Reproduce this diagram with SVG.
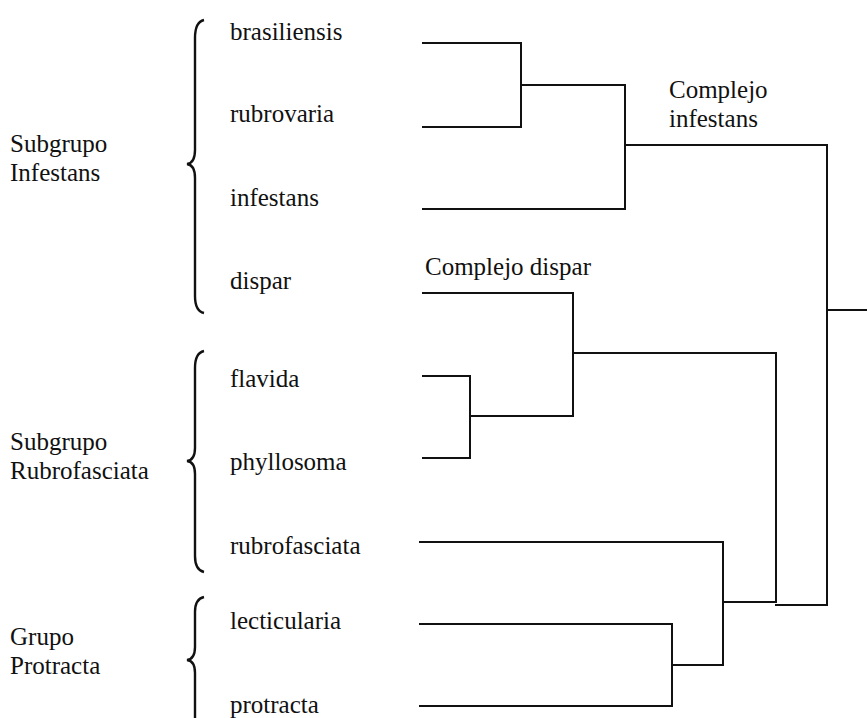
<svg xmlns="http://www.w3.org/2000/svg" width="867" height="718" viewBox="0 0 867 718">
<style>
text{font-family:"Liberation Serif","Times New Roman",serif;font-size:25px;fill:#111}
.ln{fill:none;stroke:#111;stroke-width:2;stroke-linecap:square}
.br{fill:none;stroke:#111;stroke-width:2.4}
</style>
<rect width="867" height="718" fill="#fff"/>
<g id="braces">
<path class="br" d="M204 20 Q195 22 195 38 L195 150 Q195 163 187 164 Q195 165 195 178 L195 296 Q195 311 204 313"/>
<path class="br" d="M204 351 Q195 353 195 368 L195 448 Q195 460 187 461 Q195 462 195 474 L195 556 Q195 570 204 572"/>
<path class="br" d="M204 597 Q195 599 195 612 L195 647 Q195 659 187 660 Q195 661 195 673 L195 718"/>
</g>
<g id="group-labels">
<text x="10" y="152">Subgrupo</text><text x="10" y="181">Infestans</text>
<text x="10" y="450">Subgrupo</text><text x="10" y="479">Rubrofasciata</text>
<text x="10" y="645">Grupo</text><text x="10" y="674">Protracta</text>
</g>
<g id="n-brasiliensis"><text x="230" y="40">brasiliensis</text></g>
<g id="n-rubrovaria"><text x="230" y="122">rubrovaria</text></g>
<g id="n-infestans"><text x="230" y="206">infestans</text></g>
<g id="n-dispar"><text x="230" y="289">dispar</text></g>
<g id="n-flavida"><text x="230" y="387">flavida</text></g>
<g id="n-phyllosoma"><text x="230" y="470">phyllosoma</text></g>
<g id="n-rubrofasciata"><text x="230" y="554">rubrofasciata</text></g>
<g id="n-lecticularia"><text x="230" y="629">lecticularia</text></g>
<g id="n-protracta"><text x="230" y="713">protracta</text></g>
<g id="clade-labels">
<text x="669" y="98">Complejo</text><text x="669" y="127">infestans</text>
<text x="425" y="275">Complejo dispar</text>
</g>
<g id="connectors">
<path class="ln" d="M423 43 H521 V127 H423 M521 85 H625 V209 H423 M625 145 H827"/>
<path class="ln" d="M423 293 H573 V416 H470 M423 376 H470 V458 H423 M573 353 H776"/>
<path class="ln" d="M420 542 H723 V664 M420 624 H672 V706 H420 M672 665 H723 M723 602 H776 V353"/>
<path class="ln" d="M776 605 H827 V145 M827 310 H866"/>
</g>
</svg>
